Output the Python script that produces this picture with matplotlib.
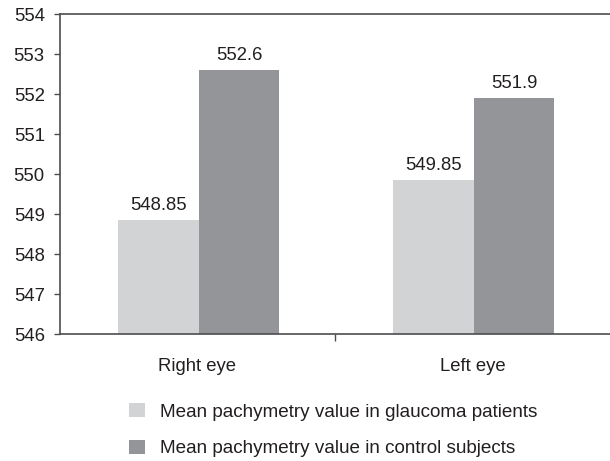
import matplotlib
matplotlib.use("Agg")
import matplotlib.pyplot as plt
from matplotlib.patches import Patch
import numpy as np

categories = ["Right eye", "Left eye"]
glaucoma = [548.85, 549.85]
control = [552.6, 551.9]
glaucoma_labels = ["548.85", "549.85"]
control_labels = ["552.6", "551.9"]
series_names = ["Mean pachymetry value in glaucoma patients",
                "Mean pachymetry value in control subjects"]
yticks = [546, 547, 548, 549, 550, 551, 552, 553, 554]

plt.rcParams['font.family'] = ['Liberation Sans', 'DejaVu Sans']
LIGHT = "#d1d3d4"
DARK = "#939598"
TXT = "#231f20"
SPINE = "#4d4d4f"
FS = 13.3
LFS = 13.6

fig = plt.figure(figsize=(6.10, 4.61), dpi=100)
ax = fig.add_axes([60/610, 1-334/461, 550/610, (334-14)/461])

x = np.arange(len(categories))
w = 0.293
ax.bar(x - w/2 + 0.005, np.array(glaucoma) - 546, w, bottom=546, color=LIGHT, linewidth=0)
ax.bar(x + w/2 + 0.005, np.array(control) - 546, w, bottom=546, color=DARK, linewidth=0)

for xi, v, lab in zip(x - w/2 + 0.005, glaucoma, glaucoma_labels):
    ax.annotate(lab, (xi, v), xytext=(0, 10), textcoords='offset pixels',
                ha='center', va='baseline', fontsize=FS, color=TXT)
for xi, v, lab in zip(x + w/2 + 0.005, control, control_labels):
    ax.annotate(lab, (xi, v), xytext=(0, 10), textcoords='offset pixels',
                ha='center', va='baseline', fontsize=FS, color=TXT)

ax.set_xlim(-0.5, 1.5)
ax.set_ylim(546, 554)
ax.set_yticks(yticks)
ax.set_yticklabels([str(t) for t in yticks], fontsize=FS, color=TXT)
ax.tick_params(axis='y', direction='out', length=4, width=1, color=SPINE, pad=7)

ax.set_xticks(x)
ax.set_xticklabels(categories, fontsize=FS, color=TXT)
ax.tick_params(axis='x', which='major', length=0, pad=17)
ax.set_xticks([0.5], minor=True)
ax.tick_params(axis='x', which='minor', direction='out', length=5, width=1, color=SPINE)

for s in ['left', 'bottom', 'top']:
    ax.spines[s].set_color(SPINE)
    ax.spines[s].set_linewidth(1.2)
ax.spines['right'].set_visible(False)

handles = [Patch(facecolor=LIGHT, edgecolor='none'), Patch(facecolor=DARK, edgecolor='none')]
fig.legend(handles, series_names, loc='upper left',
           bbox_to_anchor=(129/610, 1-403/461), frameon=False,
           fontsize=LFS, handlelength=0.85, handleheight=0.8,
           handletextpad=0.78, labelspacing=1.0, borderpad=0, borderaxespad=0,
           labelcolor=TXT)

fig.savefig("out.png", dpi=100)
